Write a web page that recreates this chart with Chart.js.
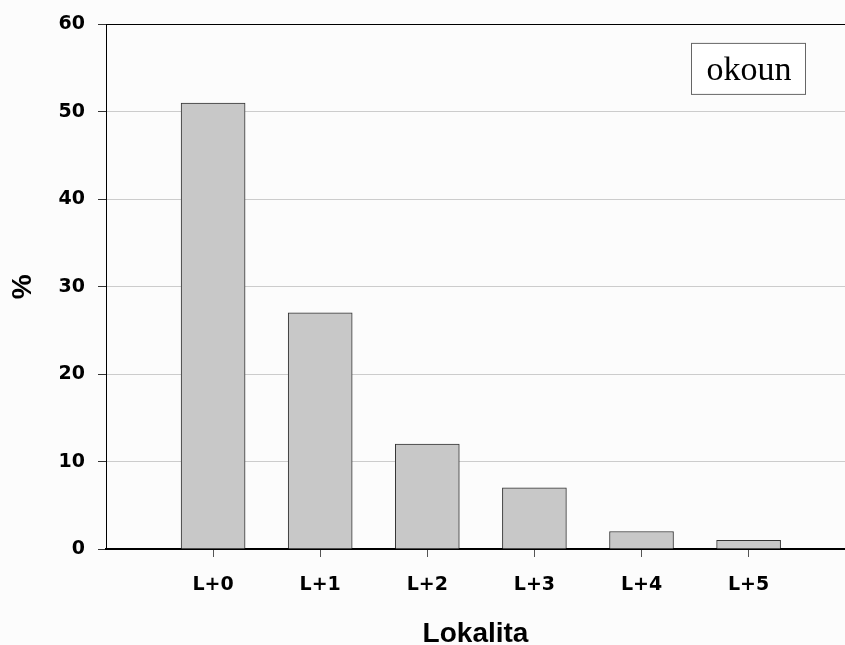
<!DOCTYPE html>
<html lang="cs">
<head>
    <meta charset="UTF-8">
    <title>okoun</title>
    <style>
        body { margin: 0; background: #fcfcfc; }
        canvas { display: block; }
    </style>
    <script src="https://cdn.jsdelivr.net/npm/chart.js"></script>
</head>
<body>
    <canvas id="chart" width="845" height="645"></canvas>
    <script>
        // data
        const categories = ['L+0', 'L+1', 'L+2', 'L+3', 'L+4', 'L+5'];
        const values = [51, 27, 12, 7, 2, 1];
        const yTicks = [0, 10, 20, 30, 40, 50, 60];
        const boxLabel = 'okoun';

        // little framed label in the top right corner
        const labelBox = {
            id: 'labelBox',
            afterDraw(chart) {
                const { ctx, chartArea } = chart;
                const w = 114, h = 51;
                const x = chartArea.right - 40 - w;
                const y = chartArea.top + 18.5;
                ctx.save();
                ctx.fillStyle = '#ffffff';
                ctx.fillRect(x, y, w, h);
                ctx.strokeStyle = '#666';
                ctx.lineWidth = 1;
                ctx.strokeRect(x + 0.5, y + 0.5, w, h);
                ctx.fillStyle = '#000';
                ctx.font = '34px "Liberation Serif", "Times New Roman", serif';
                ctx.textAlign = 'center';
                ctx.textBaseline = 'alphabetic';
                ctx.fillText(boxLabel, x + w / 2 + 1, y + 37);
                ctx.restore();
            }
        };

        const tickFont = { family: '"DejaVu Sans", Verdana, sans-serif', size: 19, weight: 'bold' };
        const titleFont = { family: '"Liberation Sans", Arial, sans-serif', size: 28, weight: 'bold' };

        new Chart(document.getElementById('chart'), {
            type: 'bar',
            data: {
                datasets: [{
                    data: categories.map((c, i) => ({ x: i, y: values[i] })),
                    backgroundColor: '#c8c8c8',
                    borderColor: '#333',
                    borderWidth: 1,
                    barThickness: 64
                }]
            },
            options: {
                responsive: false,
                animation: false,
                layout: { padding: { top: 24, right: 0, left: 0, bottom: 0 } },
                plugins: { legend: { display: false }, tooltip: { enabled: false } },
                scales: {
                    x: {
                        type: 'linear',
                        min: -1,
                        max: 5.9,
                        offset: false,
                        afterBuildTicks: scale => { scale.ticks = categories.map((c, i) => ({ value: i })); },
                        afterFit: scale => { scale.height = 96; },
                        ticks: {
                            callback: v => categories[v],
                            font: tickFont,
                            color: '#000',
                            padding: 17,
                            maxRotation: 0
                        },
                        grid: { offset: false, drawOnChartArea: false, drawTicks: true, tickLength: 8, tickColor: '#555' },
                        border: { color: '#000', width: 2 },
                        title: {
                            display: true,
                            text: 'Lokalita',
                            color: '#000',
                            font: { ...titleFont, lineHeight: 0.8 },
                            padding: 0
                        }
                    },
                    y: {
                        min: 0,
                        max: 60,
                        afterBuildTicks: scale => { scale.ticks = yTicks.map(v => ({ value: v })); },
                        afterFit: scale => { scale.width = 106; },
                        ticks: { font: tickFont, color: '#000', padding: 13 },
                        grid: {
                            color: ctx => ctx.tick && ctx.tick.value === 60 ? '#000' : '#cccccc',
                            tickColor: '#333',
                            tickLength: 8
                        },
                        border: { color: '#000', width: 1 },
                        title: {
                            display: true,
                            text: '%',
                            color: '#000',
                            font: { ...titleFont, lineHeight: 1 },
                            padding: { top: 9, bottom: 0 }
                        }
                    }
                }
            },
            plugins: [labelBox]
        });
    </script>
</body>
</html>
